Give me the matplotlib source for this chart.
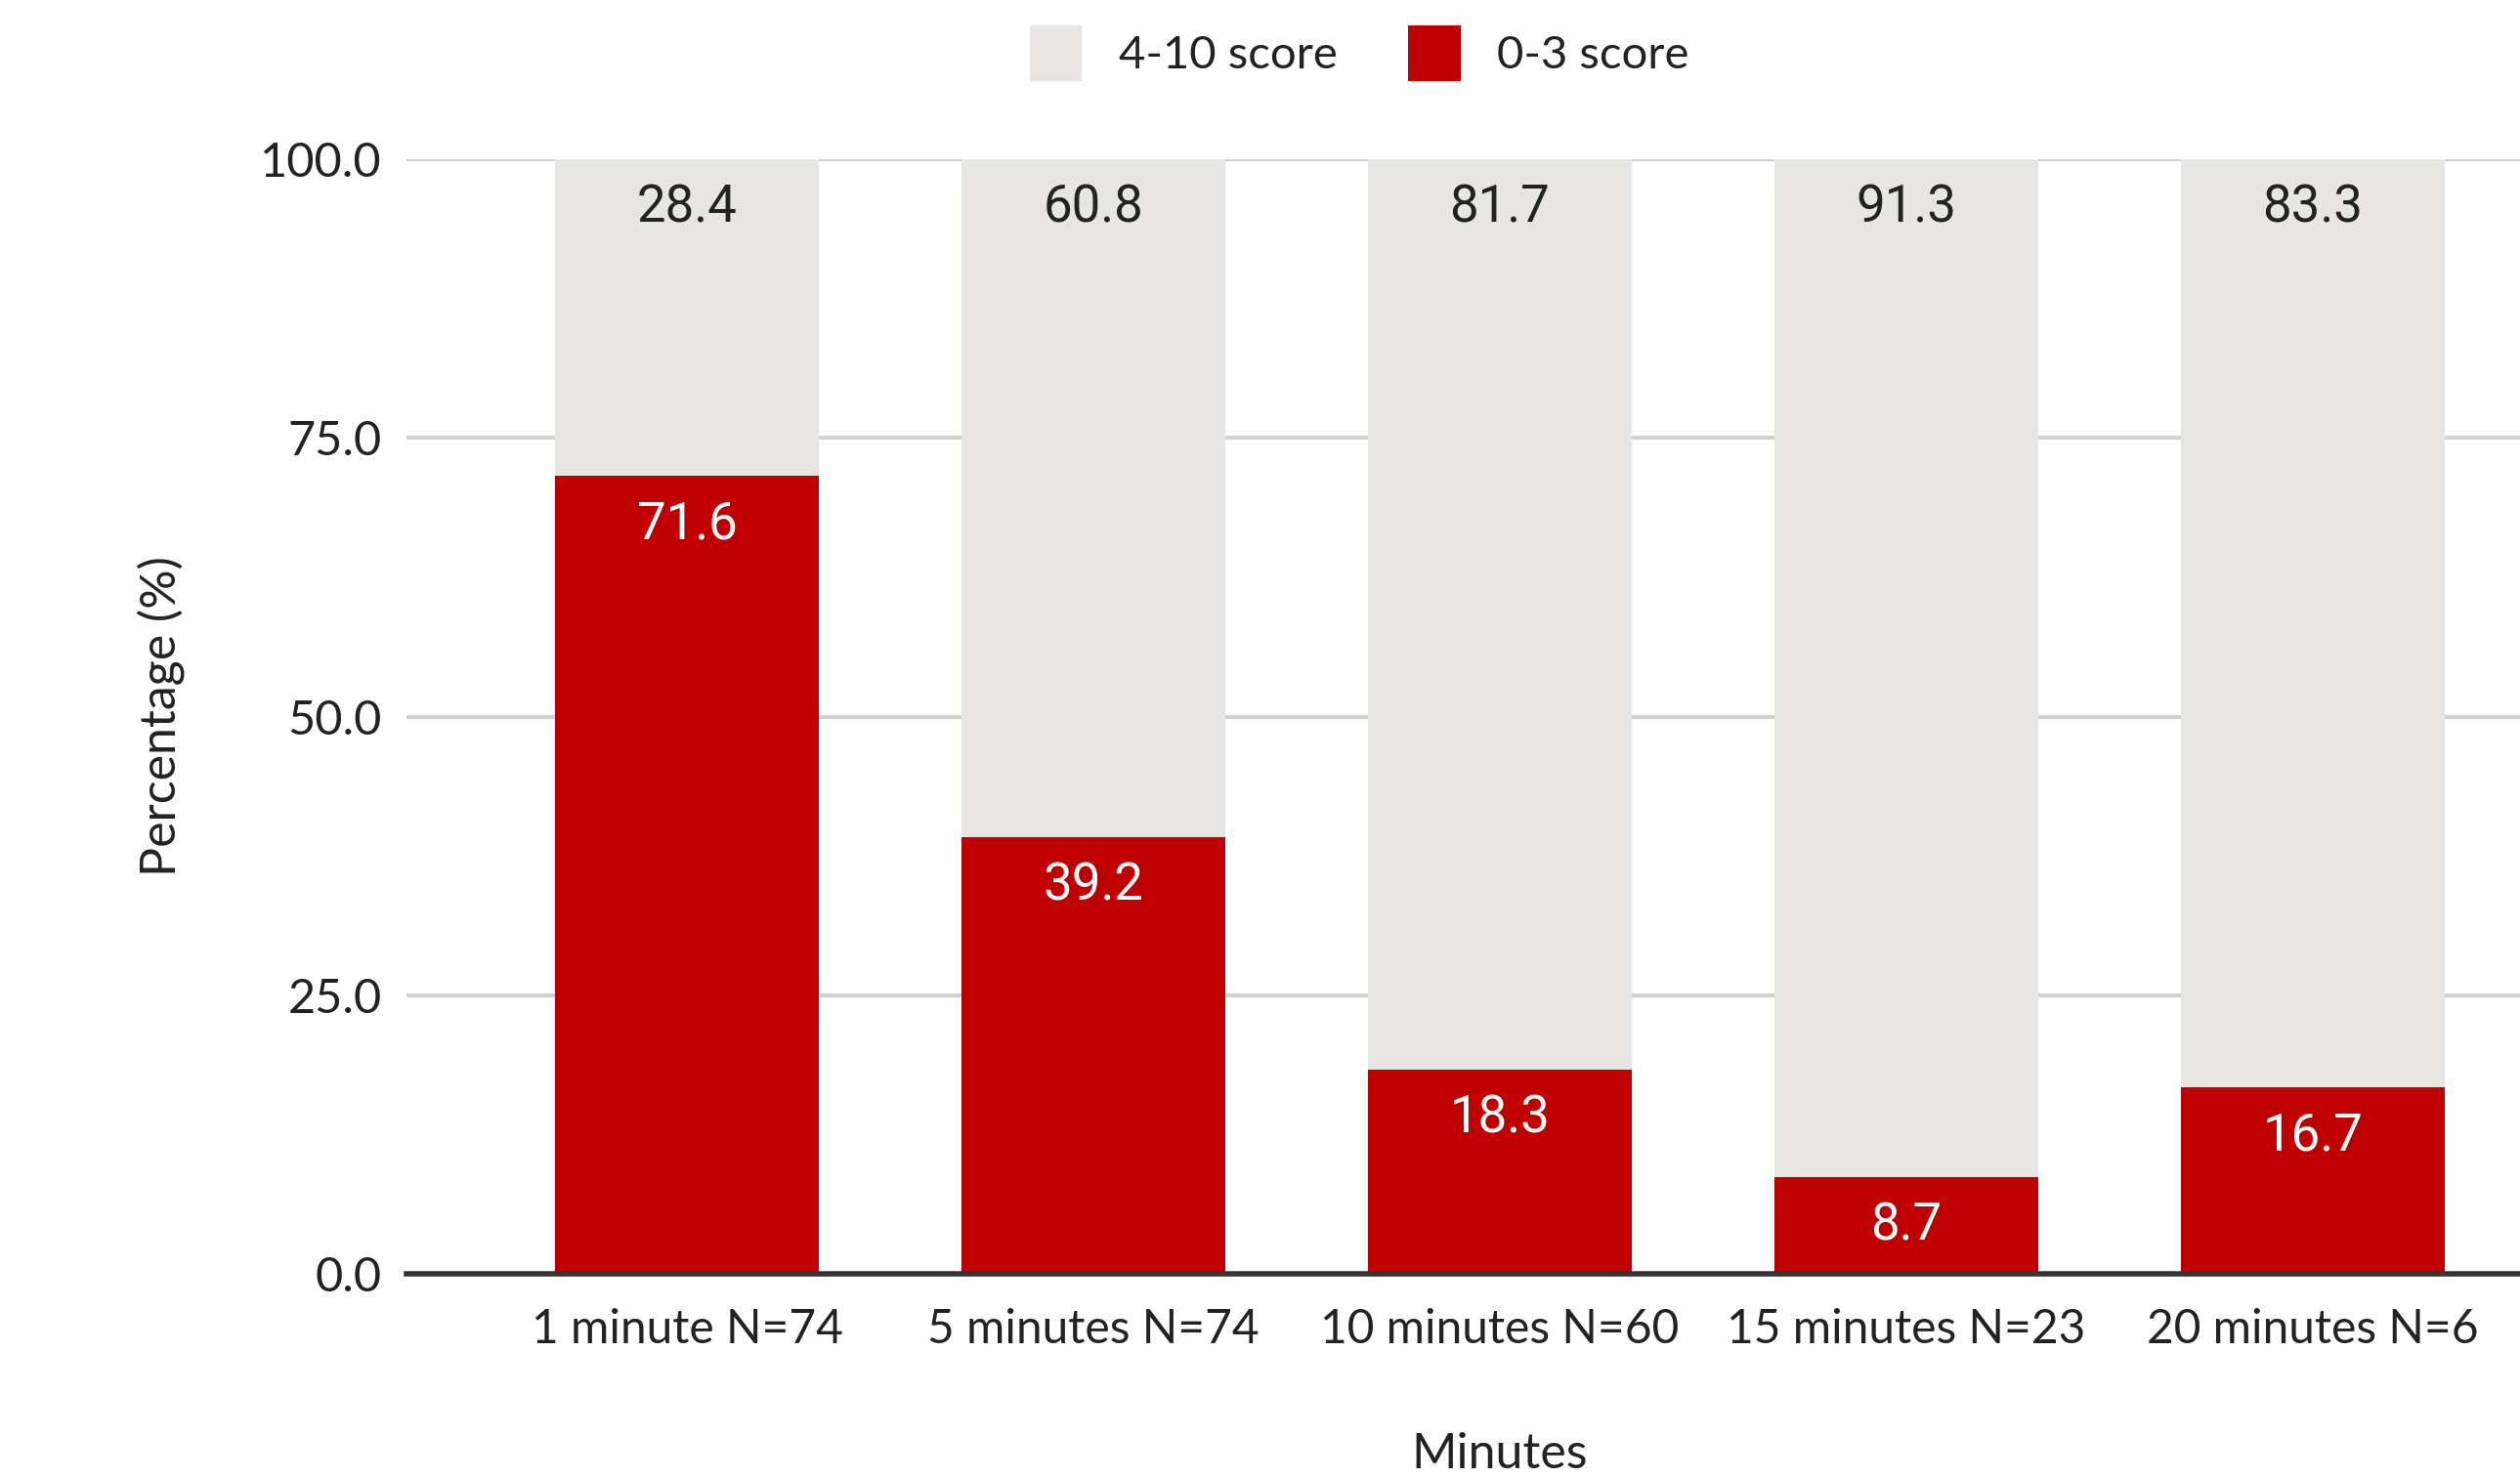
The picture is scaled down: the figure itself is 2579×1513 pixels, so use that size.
import matplotlib
matplotlib.use("Agg")
import matplotlib.pyplot as plt
from matplotlib.patches import Patch

categories = ["1 minute N=74", "5 minutes N=74", "10 minutes N=60", "15 minutes N=23", "20 minutes N=6"]
low_score = [71.6, 39.2, 18.3, 8.7, 16.7]      # 0-3 score
high_score = [28.4, 60.8, 81.7, 91.3, 83.3]    # 4-10 score
yticks = [0.0, 25.0, 50.0, 75.0, 100.0]

RED = "#C00000"
GREY = "#E8E6E2"
TXT_FONT = ["Lato", "DejaVu Sans"]
NUM_FONT = ["Roboto", "DejaVu Sans"]

fig = plt.figure(figsize=(25.79, 15.13), dpi=100)
ax = fig.add_axes([0.1613, 0.1381, 0.8387, 0.7542])

x = list(range(len(categories)))
w = 0.65
ax.bar(x, low_score, width=w, color=RED, zorder=3, label="0-3 score")
ax.bar(x, high_score, width=w, bottom=low_score, color=GREY, zorder=3, label="4-10 score")

for i in x:
    ax.annotate(f"{low_score[i]:.1f}", (i, low_score[i]), xytext=(0, -36), textcoords="offset points",
                ha="center", va="center", color="white", fontsize=38, family=NUM_FONT, zorder=4)
    top = low_score[i] + high_score[i]
    ax.annotate(f"{high_score[i]:.1f}", (i, top), xytext=(0, -36), textcoords="offset points",
                ha="center", va="center", color="#222222", fontsize=38, family=NUM_FONT, zorder=4)

ax.set_xlim(-0.69, 4.51)
ax.set_ylim(0, 100)
ax.set_yticks(yticks)
ax.set_yticklabels([f"{v:.1f}" for v in yticks], family=TXT_FONT, fontsize=35, color="#222222")
ax.set_xticks(x)
ax.set_xticklabels(categories, family=TXT_FONT, fontsize=34.5, color="#222222")
ax.tick_params(axis="both", length=0)
ax.tick_params(axis="y", pad=18)
ax.tick_params(axis="x", pad=25)
ax.yaxis.grid(True, color="#D0D0D0", linewidth=3, zorder=0)
ax.set_axisbelow(True)
for s in ["top", "right", "left"]:
    ax.spines[s].set_visible(False)
ax.spines["bottom"].set_color("#333333")
ax.spines["bottom"].set_linewidth(4)
ax.spines["bottom"].set_zorder(5)

ax.set_ylabel("Percentage (%)", family=TXT_FONT, fontsize=36, color="#222222", labelpad=56)
ax.set_xlabel("Minutes", family=TXT_FONT, fontsize=36, color="#222222")
ax.xaxis.set_label_coords(0.517, -0.142)

handles = [Patch(facecolor=GREY, edgecolor="none", label="4-10 score"),
           Patch(facecolor=RED, edgecolor="none", label="0-3 score")]
fig.legend(handles=handles, loc="center", bbox_to_anchor=(0.5395, 0.964), ncol=2, frameon=False,
           prop={"family": TXT_FONT, "size": 34}, handlelength=1.13, handleheight=1.5,
           handletextpad=0.8, columnspacing=1.53, labelcolor="#222222")

fig.savefig("out.png", dpi=100)
